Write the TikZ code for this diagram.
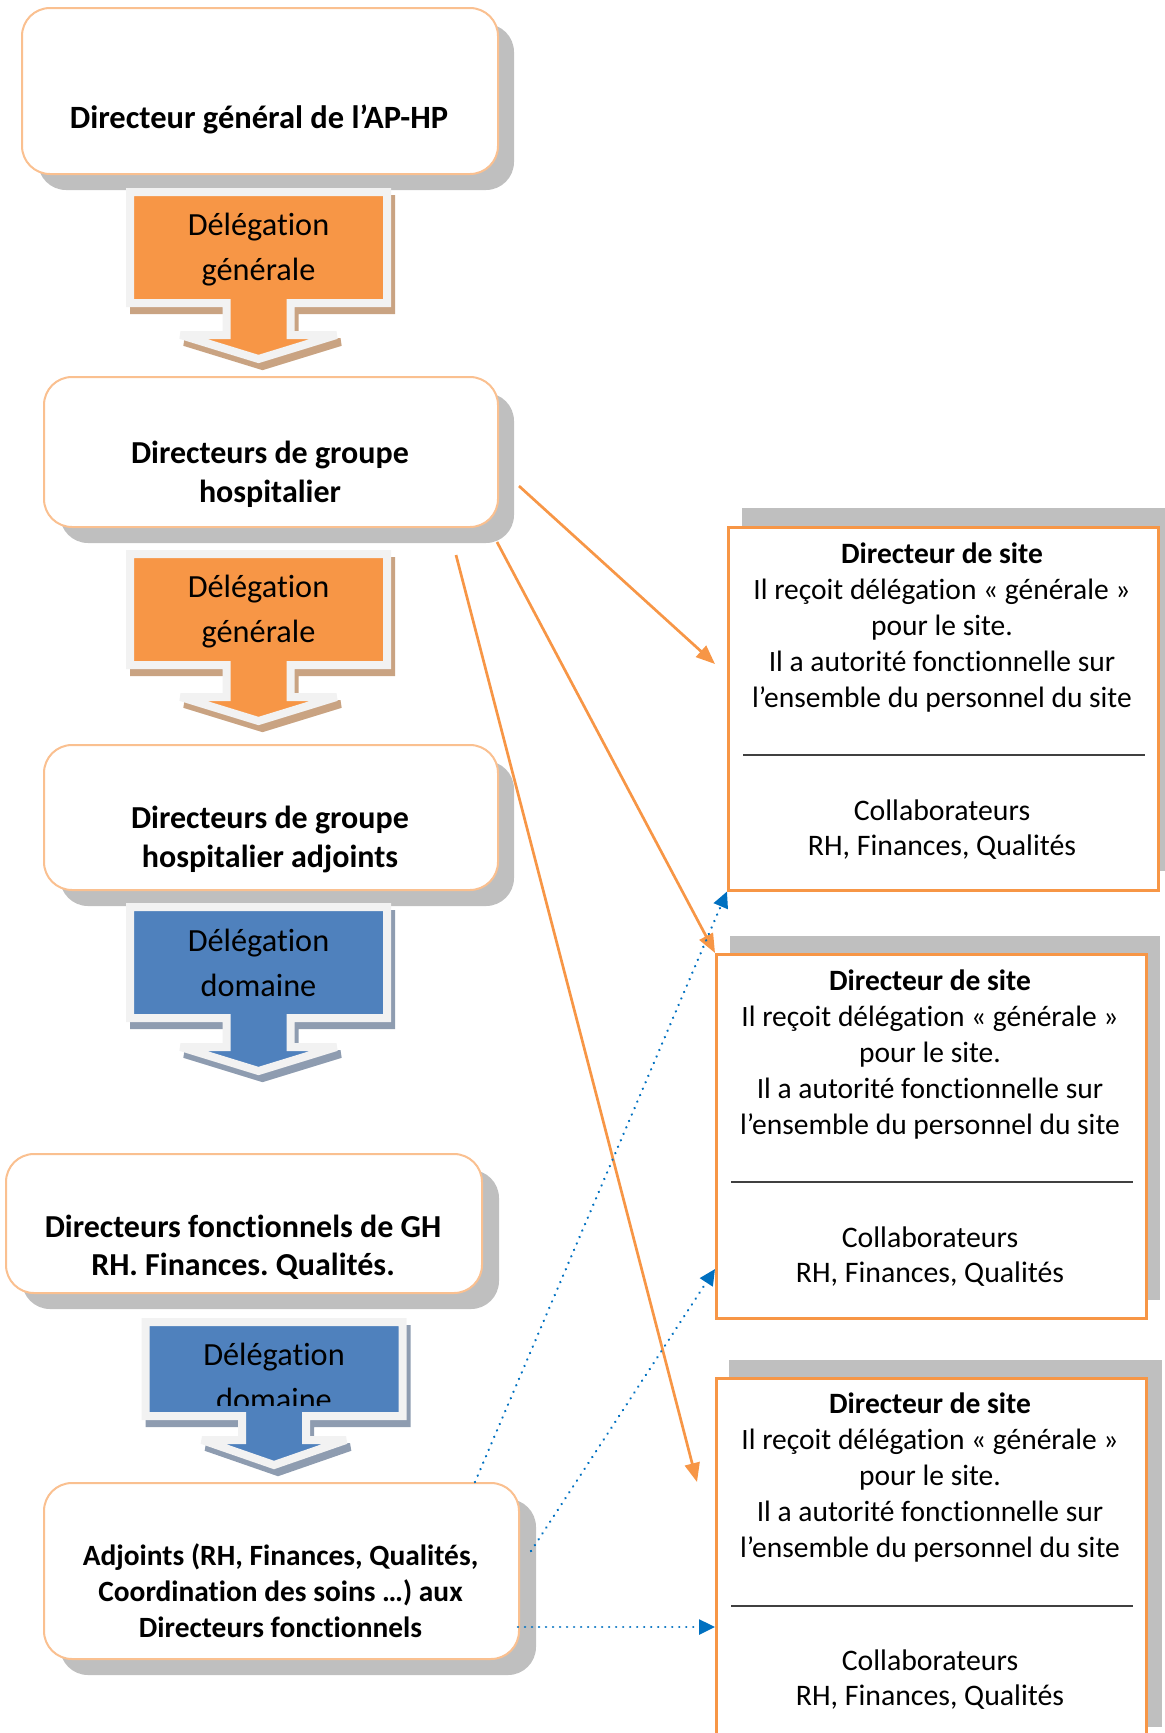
\documentclass[tikz,border=0pt]{standalone}
\usepackage{fontspec}
\setmainfont{Carlito}[RawFeature={-liga;-clig;-dlig;-calt}]
\frenchspacing
\usetikzlibrary{arrows.meta,calc}
\definecolor{boxline}{HTML}{FAC090}
\definecolor{shadowgray}{HTML}{BFBFBF}
\definecolor{orangeA}{HTML}{F79646}
\definecolor{blueA}{HTML}{4F81BD}
\definecolor{frameW}{HTML}{F2F2F2}
\definecolor{tanS}{HTML}{C9A382}
\definecolor{blueS}{HTML}{8E9CB0}
\definecolor{dotblue}{HTML}{0070C0}
\definecolor{rulegray}{HTML}{404040}
% cx, T, rect bottom, head base, tip, head half width, fill, shadow
\newcommand\dcallout[8]{%
  \filldraw[#8, line width=8, line join=miter, miter limit=3, shift={(4,7)}]
    (#1-128.5,#2+4) -- (#1+128.5,#2+4) -- (#1+128.5,#2+#3) -- (#1+32,#2+#3) -- (#1+32,#2+#4)
    -- (#1+#6,#2+#4) -- (#1,#2+#5) -- (#1-#6,#2+#4) -- (#1-32,#2+#4) -- (#1-32,#2+#3)
    -- (#1-128.5,#2+#3) -- cycle;
  \filldraw[fill=#7, draw=frameW, line width=8, line join=miter, miter limit=3]
    (#1-128.5,#2+4) -- (#1+128.5,#2+4) -- (#1+128.5,#2+#3) -- (#1+32,#2+#3) -- (#1+32,#2+#4)
    -- (#1+#6,#2+#4) -- (#1,#2+#5) -- (#1-#6,#2+#4) -- (#1-32,#2+#4) -- (#1-32,#2+#3)
    -- (#1-128.5,#2+#3) -- cycle;
}
\tikzset{
  rbox/.style={draw=boxline, fill=white, line width=2, rounded corners=28, inner sep=0, anchor=north west},
  rshadow/.style={fill=shadowgray, rounded corners=28},
  sitebox/.style={draw=orangeA, fill=white, line width=2.5, inner sep=0, anchor=north west},
  boldtext/.style={font=\fontsize{32}{39}\selectfont\bfseries, align=center, anchor=base, inner sep=0},
  deltext/.style={font=\fontsize{32.3}{45}\selectfont, align=center, anchor=base, inner sep=0},
  sitetext/.style={font=\fontsize{29.5}{36}\selectfont, align=center, anchor=base, inner sep=0},
  collabtext/.style={font=\fontsize{29.8}{35}\selectfont, align=center, anchor=base, inner sep=0},
  orangearrow/.style={draw=orangeA, line width=2.7, -{Triangle[length=19pt,width=15pt]}},
  dotarrow/.style={draw=dotblue, line width=2.6, line cap=round, dash pattern=on 0.01pt off 7pt, -{Triangle[length=16pt,width=15pt]}},
}
\begin{document}
\begin{tikzpicture}[x=1pt,y=-1pt]
\useasboundingbox (0,0) rectangle (1165,1733);
\clip (0,0) rectangle (1165,1733);

% ---------- left rounded boxes (text nodes anchored at the last line's baseline) ----------
\fill[rshadow] (38,24) rectangle (514,190);
\node[rbox, minimum width=476pt, minimum height=166pt] (b1) at (21,7) {};
\node[boldtext, font=\fontsize{32.5}{39}\selectfont\bfseries] (b1t) at (259,128) {Directeur général de l’AP-HP};

\fill[rshadow] (60,393) rectangle (514,543);
\node[rbox, minimum width=454pt, minimum height=150pt] (b2) at (43,376) {};
\node[boldtext] (b2t) at (270,502) {Directeurs de groupe\\hospitalier};

\fill[rshadow] (60,761) rectangle (514,906);
\node[rbox, minimum width=454pt, minimum height=145pt] (b3) at (43,744) {};
\node[boldtext] (b3t) at (270,867) {Directeurs de groupe\\hospitalier adjoints};

\fill[rshadow] (22,1170) rectangle (499,1309);
\node[rbox, minimum width=476pt, minimum height=139pt] (b4) at (5,1153) {};
\node[boldtext, font=\fontsize{32}{38}\selectfont\bfseries] (b4t) at (243,1275) {Directeurs fonctionnels de GH\\RH. Finances. Qualités.};

\fill[rshadow] (60,1499) rectangle (536,1675);
\node[rbox, minimum width=475pt, minimum height=176pt] (b5) at (43,1482) {};
\node[boldtext, font=\fontsize{29.4}{36}\selectfont\bfseries] (b5t) at (280.5,1637) {Adjoints (RH, Finances, Qualités,\\Coordination des soins …) aux\\Directeurs fonctionnels};

% ---------- callout arrows ----------
\dcallout{258.5}{188}{115}{147}{171}{78}{orangeA}{tanS}
\node[deltext] (c1t) at (258.5,280) {Délégation\\générale};
\dcallout{258.5}{550}{115}{147}{171}{78}{orangeA}{tanS}
\node[deltext] (c2t) at (258.5,642) {Délégation\\générale};
\dcallout{258.5}{903}{115}{144}{168}{78}{blueA}{blueS}
\node[deltext] (c3t) at (258.5,996) {Délégation\\domaine};
\dcallout{274}{1318}{98}{122}{147}{72}{blueA}{blueS}
\begin{scope}
  \clip (149,1326) rectangle (399,1405);
  \node[deltext] (c4t) at (274,1410) {Délégation\\domaine};
\end{scope}

% ---------- right site boxes ----------
\fill[shadowgray] (742,508) rectangle (1172,871);
\node[sitebox, minimum width=430pt, minimum height=363pt] (R1) at (727,526) {};
\node[sitetext] (R1a) at (942,707) {{\bfseries Directeur de site}\\Il reçoit délégation « générale »\\pour le site.\\Il a autorité fonctionnelle sur\\l’ensemble du personnel du site};
\draw[rulegray, line width=2] ($(R1.north west)+(16,229)$) -- ($(R1.north east)+(-15,229)$);
\node[collabtext] (R1b) at (942,855) {Collaborateurs\\RH, Finances, Qualités};

\fill[shadowgray] (730,936) rectangle (1160,1300);
\node[sitebox, minimum width=430pt, minimum height=364pt] (R2) at (715,953) {};
\node[sitetext] (R2a) at (930,1134) {{\bfseries Directeur de site}\\Il reçoit délégation « générale »\\pour le site.\\Il a autorité fonctionnelle sur\\l’ensemble du personnel du site};
\draw[rulegray, line width=2] ($(R2.north west)+(16,229)$) -- ($(R2.north east)+(-15,229)$);
\node[collabtext] (R2b) at (930,1282) {Collaborateurs\\RH, Finances, Qualités};

\fill[shadowgray] (729,1360) rectangle (1162,1727);
\node[sitebox, minimum width=430pt, minimum height=367pt] (R3) at (715,1377) {};
\node[sitetext] (R3a) at (930,1557) {{\bfseries Directeur de site}\\Il reçoit délégation « générale »\\pour le site.\\Il a autorité fonctionnelle sur\\l’ensemble du personnel du site};
\draw[rulegray, line width=2] ($(R3.north west)+(16,229)$) -- ($(R3.north east)+(-15,229)$);
\node[collabtext] (R3b) at (930,1705) {Collaborateurs\\RH, Finances, Qualités};

% ---------- connectors ----------
\coordinate (a1s) at (519,486);
\coordinate (a1e) at (715,664);
\coordinate (a2s) at (497,542);
\coordinate (a3s) at (456,555);
\coordinate (a3e) at (697,1482);
\coordinate (d1s) at (475,1482);
\coordinate (d2s) at (531,1551);
\coordinate (d2e) at (715,1269);
\coordinate (d3s) at (518,1627);
\coordinate (d3e) at (715,1627);

\draw[orangearrow] (a1s) -- (a1e);
\draw[orangearrow] (a2s) -- (R2.north west);
\draw[orangearrow] (a3s) -- (a3e);
\draw[dotarrow] (d1s) -- (R1.south west);
\draw[dotarrow] (d2s) -- (d2e);
\draw[dotarrow] (d3s) -- (d3e);
\end{tikzpicture}
\end{document}
